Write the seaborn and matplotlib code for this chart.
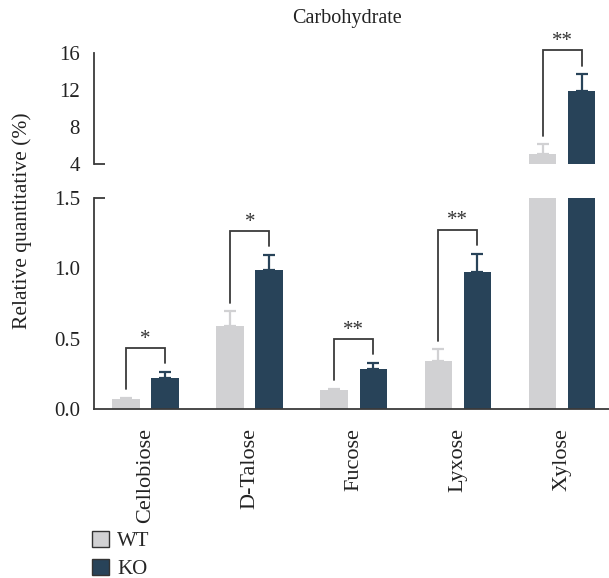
import numpy as np
import pandas as pd
import matplotlib
matplotlib.use("Agg")
import matplotlib.pyplot as plt
import seaborn as sns
from matplotlib.patches import Patch

# ---------------- data ----------------
categories = ["Cellobiose", "D-Talose", "Fucose", "Lyxose", "Xylose"]
groups = ["WT", "KO"]
wt_mean = [0.07, 0.59, 0.135, 0.34, 5.05]
wt_err = [0.01, 0.105, 0.01, 0.085, 1.1]
ko_mean = [0.218, 0.986, 0.282, 0.977, 11.92]
ko_err = [0.047, 0.11, 0.047, 0.128, 1.78]
significance = ["*", "*", "**", "**", "**"]
yticks_low = [0.0, 0.5, 1.0, 1.5]
yticklabels_low = ["0.0", "0.5", "1.0", "1.5"]
yticks_high = [4, 8, 12, 16]
yticklabels_high = ["4", "8", "12", "16"]

# ---------------- style ----------------
sns.set_theme(style="white")
plt.rcParams["font.family"] = ["Liberation Serif", "DejaVu Serif"]

WT_COLOR = "#D1D1D3"
KO_COLOR = "#284359"
palette = {"WT": WT_COLOR, "KO": KO_COLOR}
AX_COLOR = "#3a3a3a"
TXT = "#222222"

df = pd.DataFrame({
    "Compound": categories * 2,
    "Group": ["WT"] * len(categories) + ["KO"] * len(categories),
    "Value": wt_mean + ko_mean,
})

W, H = 609, 578
fig = plt.figure(figsize=(W / 100, H / 100), dpi=100)
ax_lo = fig.add_axes([94 / W, (H - 409) / H, 515 / W, 211 / H])
ax_hi = fig.add_axes([94 / W, (H - 164) / H, 515 / W, 111 / H])

centers = {}
for ax in (ax_lo, ax_hi):
    sns.barplot(data=df, x="Compound", y="Value", hue="Group",
                order=categories, hue_order=groups, palette=palette,
                width=0.75, gap=0.29, errorbar=None, legend=False,
                saturation=1, linewidth=0, ax=ax)
    for g, cont in zip(groups, ax.containers):
        centers[g] = [p.get_x() + p.get_width() / 2 for p in cont.patches]
    for g, m, e, c in (("WT", wt_mean, wt_err, WT_COLOR), ("KO", ko_mean, ko_err, KO_COLOR)):
        ax.errorbar(centers[g], m, yerr=[np.zeros(len(e)), e], fmt="none",
                    ecolor=c, elinewidth=1.6, capsize=4.5, capthick=1.6, zorder=0.5)
    ax.set_xlim(-0.496, 4.451)
    ax.set_xlabel("")
    ax.set_ylabel("")
    for s in ("top", "right"):
        ax.spines[s].set_visible(False)
    ax.spines["left"].set_color(AX_COLOR)
    ax.spines["left"].set_linewidth(1.3)
    ax.tick_params(axis="both", direction="out", length=5, width=1.3,
                   color=AX_COLOR, labelsize=15, labelcolor=TXT, pad=5)

ax_lo.set_ylim(0, 1.5)
ax_lo.set_yticks(yticks_low, yticklabels_low)
ax_lo.spines["bottom"].set_color(AX_COLOR)
ax_lo.spines["bottom"].set_linewidth(1.3)
ax_lo.set_xticks(range(len(categories)), categories, rotation=90)
ax_lo.tick_params(axis="x", length=7, pad=7, labelsize=16)

ax_hi.set_ylim(4, 16)
ax_hi.set_yticks(yticks_high, yticklabels_high)
ax_hi.spines["bottom"].set_visible(False)
ax_hi.set_xticks([])

# axis-break marks
for ax, yy in ((ax_lo, 1.0), (ax_hi, 0.0)):
    ax.plot([0, 11 / 515], [yy, yy], transform=ax.transAxes, color=AX_COLOR,
            lw=1.3, clip_on=False, solid_capstyle="butt")

# significance brackets
def px(ax, n):
    lo, hi = ax.get_ylim()
    return n * (hi - lo) / ax.bbox.height

for i, sig in enumerate(significance):
    ax = ax_hi if ko_mean[i] + ko_err[i] > 1.5 else ax_lo
    xw, xk = centers["WT"][i], centers["KO"][i]
    y_w = wt_mean[i] + wt_err[i] + px(ax, 8.5)
    y_k = ko_mean[i] + ko_err[i] + px(ax, 8.5)
    y_t = ko_mean[i] + ko_err[i] + px(ax, 24)
    ax.plot([xw, xw, xk, xk], [y_w, y_t, y_t, y_k], color=AX_COLOR, lw=1.3,
            clip_on=False, solid_joinstyle="miter")
    ax.annotate(sig, xy=(i, y_t), xytext=(0, 3), textcoords="offset points",
                ha="center", va="baseline", fontsize=15, color="#333333",
                annotation_clip=False)

fig.text(22 / W, 1 - 221 / H, "Relative quantitative (%)", rotation=90,
         ha="center", va="center", fontsize=15.5, color=TXT)
fig.text(347 / W, 1 - 19 / H, "Carbohydrate", ha="center", va="center",
         fontsize=14.5, color=TXT)

handles = [Patch(facecolor=WT_COLOR, edgecolor="#333333", lw=1.0),
           Patch(facecolor=KO_COLOR, edgecolor="#333333", lw=1.0)]
fig.legend(handles, groups, loc="upper left", bbox_to_anchor=(92 / W, 1 - 531 / H),
           frameon=False, handlelength=0.8, handleheight=0.78, handletextpad=0.4,
           labelspacing=0.38, borderpad=0, borderaxespad=0, fontsize=15)

fig.savefig("out.png", dpi=100)
